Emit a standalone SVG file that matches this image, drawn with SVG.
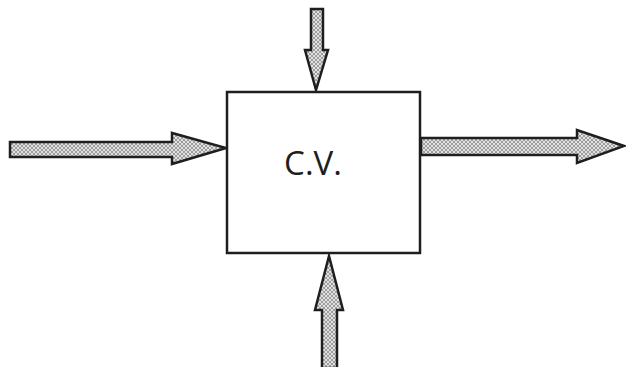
<svg xmlns="http://www.w3.org/2000/svg" width="626" height="367" viewBox="0 0 626 367">
<defs>
<pattern id="hatch" patternUnits="userSpaceOnUse" width="4" height="4">
<rect width="4" height="4" fill="#e2e2e2"/>
<path d="M0,0 L4,4 M4,0 L0,4" stroke="#8a8a8a" stroke-width="0.8"/>
</pattern>
<style>
.arrow{fill:url(#hatch);stroke:#1e1e1e;stroke-width:2.5;stroke-linejoin:miter}
.box{fill:#ffffff;stroke:#1e1e1e;stroke-width:2.5}
.lbl{font-family:"Open Sans","Liberation Sans",sans-serif;font-size:33px;fill:#1e1e1e}
</style>
</defs>
<rect width="626" height="367" fill="#ffffff"/>
<g id="connectors">
<polygon class="arrow" points="10,142 172,142 172,133 226,148 172,164 172,157 10,157"/>
<polygon class="arrow" points="311,9 323,9 323,50 328,50 316,90 305,50 311,50"/>
<polygon class="arrow" points="421,138 577,138 577,130 624,146 577,163 577,155 421,155"/>
<polygon class="arrow" points="322,368 322,310 315,310 329,256 343,310 337,310 337,368"/>
</g>
<g id="cv">
<rect class="box" x="227" y="92" width="193" height="161"/>
<text class="lbl" x="313" y="175" text-anchor="middle">C.V.</text>
</g>
</svg>
